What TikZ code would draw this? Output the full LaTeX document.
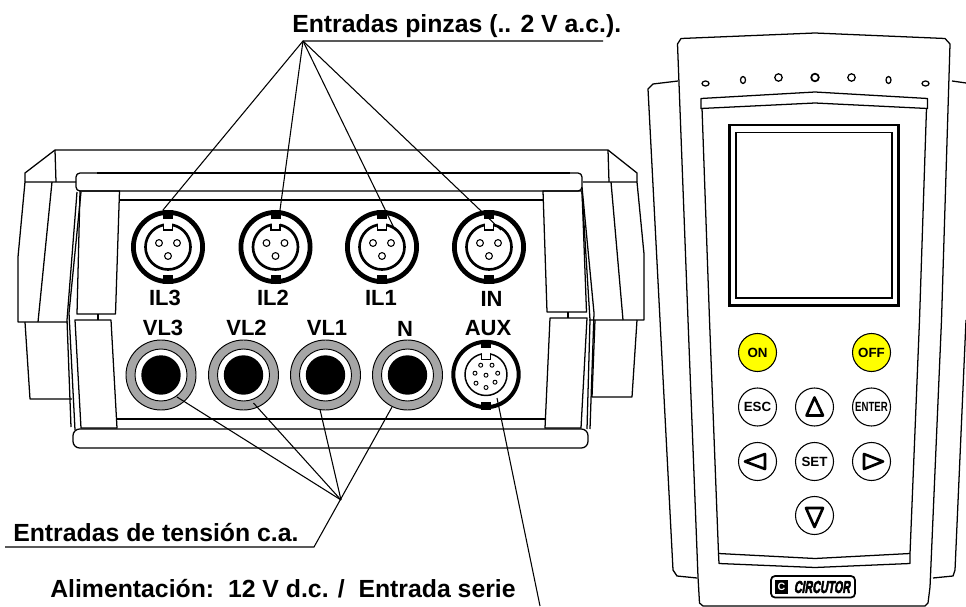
\documentclass[tikz,border=0pt]{standalone}
\usepackage{fontspec}
\setmainfont{Liberation Sans}
\newfontfamily\logofont[FakeBold=4,FakeSlant=0.25]{Liberation Sans Bold}
\usepackage{graphicx}
\definecolor{ringgray}{HTML}{A6A6A6}
\definecolor{keyyellow}{HTML}{FFFF00}
\tikzset{
  outline/.style={line width=0.95pt,line join=round},
  leader/.style={line width=0.8pt},
  caption/.style={font=\bfseries\fontsize{18.6}{22}\selectfont,inner sep=0pt,anchor=base west},
  portlabel/.style={font=\bfseries\fontsize{16.5}{19}\selectfont,inner sep=0pt},
  keylabel/.style={font=\bfseries\fontsize{10}{11}\selectfont,inner sep=0pt},
  keyround/.style={circle,draw,line width=0.8pt,inner sep=0pt,minimum size=28.5pt},
  keyarrow/.style={line width=2pt,line join=round},
  pics/clampjack/.style={code={
    \draw[line width=3.6pt] (0,0) circle (34.6);
    \fill (-5,-37) rectangle (5,-28);
    \fill (-5,28) rectangle (5,37);
    \draw[line width=2pt] (0,0) circle (22.5);
    \fill[white] (-4,-25) rectangle (4,-20);
    \draw[line width=0.9pt] (-4.5,-23) -- (-4.5,-17) -- (4.5,-17) -- (4.5,-23);
    \draw[line width=0.8pt] (-9,-4) circle (3.4) (9,-4) circle (3.4) (0,9) circle (3.4);
  }},
  pics/voltjack/.style={code={
    \draw[fill=ringgray,line width=0.7pt] (0,0) circle (35);
    \draw[fill=white,line width=0.7pt] (0,0) circle (26);
    \fill (0,0) circle (19.7);
  }},
  pics/auxjack/.style={code={
    \draw[line width=3pt] (0,0) circle (32.7);
    \fill (-5,-35) rectangle (5,-27);
    \fill (-5,27) rectangle (5,35);
    \draw[line width=1.1pt] (0,0) circle (21);
    \fill[white] (-4,-23) rectangle (4,-19);
    \draw[line width=0.8pt] (-4.5,-21) -- (-4.5,-15) -- (4.5,-15) -- (4.5,-21);
    \draw[line width=0.7pt] (-5.3,-9.3) circle (2) (6,-9.3) circle (2) (-11,-1.3) circle (2)
      (0,0.7) circle (2) (11.7,-1.3) circle (2) (-10,8.7) circle (2) (0,13) circle (2) (9,7.7) circle (2);
  }}
}

\begin{document}
\begin{tikzpicture}[x=0.75pt,y=-0.75pt]

\useasboundingbox (0,0) rectangle (966,606);

\draw[outline] (25,182) -- (25,173) -- (55,150) -- (608,150) -- (637,173) -- (637,182);
\draw[outline] (55,150) -- (56,182) (608,150) -- (609,182);
\draw[outline] (76,182) -- (25,182) -- (18,257) -- (18,322) -- (68,322);
\draw[outline] (52,182) -- (38,322);
\draw[outline] (25,322) -- (30,399) -- (72,399);
\draw[outline] (583,182) -- (637,182) -- (644,254) -- (644,320) -- (589,320);
\draw[outline] (611,182) -- (623,320);
\draw[outline] (637,320) -- (632,397) -- (592,397) -- (595,320);

\draw[outline,rounded corners=3pt] (76,173) rectangle (582,191);
\draw[line width=1.5pt] (97,173) -- (570,173);
\draw[outline] (120,200) -- (543,200);
\draw[outline] (117,419) -- (545,419);
\draw[outline,rounded corners=5pt] (73,429) rectangle (588,448);

\draw[outline] (80,191) -- (119.5,191) -- (115.5,314) -- (77,314) -- cycle;
\draw[outline] (75,320) -- (111,320) -- (117,428) -- (81,428) -- cycle;
\draw[outline] (98,314) -- (98,320);
\draw[outline] (543,191) -- (582,191) -- (586.5,312) -- (547,312) -- cycle;
\draw[outline] (550,318) -- (587,318) -- (581,428) -- (545,428) -- cycle;
\draw[outline] (568,312) -- (568,318);
\draw[outline] (81,192) -- (69,313) -- (75,430);
\draw[outline] (77,192) -- (67,320) -- (71,427);
\draw[outline] (582,187) -- (594,313) -- (590,429);
\draw[outline] (582,192) -- (590,320) -- (587,429);

\pic (il3) at (168,247) {clampjack};
\pic (il2) at (275.5,247) {clampjack};
\pic (il1) at (382,247) {clampjack};
\pic (in) at (489,247) {clampjack};
\pic (vl3) at (161,375) {voltjack};
\pic (vl2) at (243.5,375) {voltjack};
\pic (vl1) at (325.5,375) {voltjack};
\pic (vn) at (407.5,375) {voltjack};
\pic (aux) at (486,374.5) {auxjack};

\node[portlabel] (labelil3) at (165,298) {IL3};
\node[portlabel] (labelil2) at (273,298) {IL2};
\node[portlabel] (labelil1) at (381,298) {IL1};
\node[portlabel] (labelin) at (491.5,299) {IN};
\node[portlabel] (labelvl3) at (163,328) {VL3};
\node[portlabel] (labelvl2) at (246.5,328) {VL2};
\node[portlabel] (labelvl1) at (327,328) {VL1};
\node[portlabel] (labeln) at (405,329) {N};
\node[portlabel] (labelaux) at (488,328) {AUX};

\node[caption] (clampcaption) at (292,33) {Entradas pinzas (.. 2 V a.c.).};
\node[caption] (voltcaption) at (13,541) {Entradas de tensión c.a.};
\node[caption] (powercaption) at (50,597) {Alimentación:\ \ 12 V d.c. /\ \ Entrada serie};

\coordinate (clampapex) at (303,41);
\coordinate (clampend) at (603,41);
\coordinate (il3end) at (163,210);
\coordinate (il2end) at (280,210);
\coordinate (il1end) at (395,230);
\coordinate (inend) at (501,230);
\coordinate (voltapex) at (341,500);
\coordinate (voltbend) at (314,547);
\coordinate (voltend) at (5,547);
\coordinate (vl3end) at (177,397);
\coordinate (vl2end) at (253.5,403);
\coordinate (vl1end) at (320,409.5);
\coordinate (vnend) at (392,407);
\coordinate (auxstart) at (497,398);
\coordinate (auxend) at (540,606);

\draw[leader] (clampend) -- (clampapex) -- (il3end);
\draw[leader] (clampapex) -- (il2end);
\draw[leader] (clampapex) -- (il1end);
\draw[leader] (clampapex) -- (inend);
\draw[leader] (voltend) -- (voltbend) -- (vnend);
\draw[leader] (voltapex) -- (vl3end);
\draw[leader] (voltapex) -- (vl2end);
\draw[leader] (voltapex) -- (vl1end);
\draw[leader] (auxstart) -- (auxend);

\draw[outline] (678,81) -- (653,84) -- (648,89) -- (673,570) -- (677,576) -- (697,578);
\draw[outline] (952,81) -- (966,83);
\draw[outline] (966,320) -- (955,570) -- (953,576) -- (933,578);
\draw[outline,fill=white] (681,38.5) -- (815,33) -- (945,38.5) -- (950,44) -- (941.5,320) -- (930,587) -- (928,603) -- (925,606)
  -- (703,606) -- (699.5,603) -- (698,577) -- (688,320) -- (677.5,44) -- cycle;

\draw[outline] (701,98.5) -- (815,92) -- (927.5,98.5) -- (927.5,108.5) -- (815,103) -- (701,108.5) -- cycle;
\draw[outline] (702,108) -- (709.5,320) -- (718.5,553.5) -- (815,558.5) -- (910,553.5) -- (919.5,320) -- (926.5,108);
\draw[outline] (718.5,553.5) -- (719,563.5) -- (815,567.5) -- (910,563.5) -- (910,553.5);

\draw[line width=2pt] (729.5,125) rectangle (898.5,305.5);
\draw[line width=1.1pt] (736,132.5) rectangle (892,298);

\draw[outline] (705.5,83.5) ellipse (3.5 and 2.5);
\draw[outline] (743,80) ellipse (2.5 and 3.5);
\draw[outline] (778.5,77.5) circle (3.7);
\draw[line width=1.3pt] (815,77.5) circle (3.8);
\draw[outline] (851.5,77.5) circle (3.7);
\draw[outline] (888.5,80) ellipse (2.5 and 3.5);
\draw[outline] (925.5,83.5) ellipse (3.5 and 2.5);

\node[keyround,fill=keyyellow,keylabel] (keyon) at (757.5,352.5) {ON};
\node[keyround,fill=keyyellow,keylabel] (keyoff) at (871.5,352.5) {OFF};
\node[keyround,keylabel] (keyesc) at (757.5,407) {ESC};
\node[keyround] (keyup) at (814.5,407) {};
\node[keyround,keylabel] (keyenter) at (871.5,407) {\scalebox{0.72}[1]{ENTER}};
\node[keyround] (keyleft) at (757.5,461.5) {};
\node[keyround,keylabel] (keyset) at (814.5,461.5) {SET};
\node[keyround] (keyright) at (871.5,461.5) {};
\node[keyround] (keydown) at (814.5,515.5) {};

\draw[keyarrow] (814.5,397.5) -- (806.5,415.5) -- (823,415.5) -- cycle;
\draw[keyarrow] (745,461.5) -- (765,454) -- (765,469) -- cycle;
\draw[keyarrow] (864,454) -- (864,469) -- (883,461.5) -- cycle;
\draw[keyarrow] (806,508) -- (823,508) -- (814.5,527) -- cycle;

\draw[line width=1.3pt,rounded corners=3pt] (771,576) rectangle (855,597.5);
\fill (775,580) rectangle (788,594);
\node[font=\bfseries\fontsize{8}{9}\selectfont,text=white,inner sep=0pt] (logomark) at (781.5,587) {C};
\node[font=\logofont\fontsize{8}{9}\selectfont,inner sep=0pt] (logotext) at (822,587) {\scalebox{1}[1.6]{CIRCUTOR}};

\end{tikzpicture}
\end{document}
